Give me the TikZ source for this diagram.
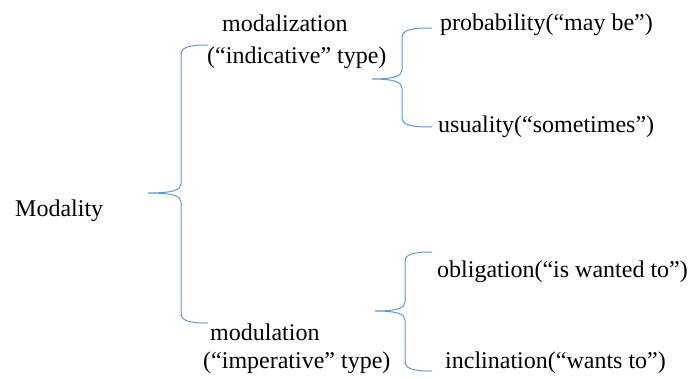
\documentclass[tikz,border=0pt]{standalone}
\usepackage{fontspec}
\setmainfont{Liberation Serif}
\newfontfamily\tnr{Liberation Serif}
\definecolor{bracecol}{RGB}{91,155,213}
\newcommand{\drawbrace}[6]{% #1 vertical x, #2 top y, #3 tip x, #4 tip y, #5 bottom y, #6 end x
  \draw[bracestyle] (#6,#2) .. controls ({#1+8},#2) and (#1,{#2+2}) .. (#1,{#2+10})
    -- (#1,{#4-9}) .. controls (#1,{#4-3}) and ({#1-8},#4) .. (#3,#4)
    .. controls ({#1-8},#4) and (#1,{#4+3}) .. (#1,{#4+9})
    -- (#1,{#5-10}) .. controls (#1,{#5-2}) and ({#1+8},#5) .. (#6,#5);}
\begin{document}
\begin{tikzpicture}[x=1pt,y=-1pt,
  bracestyle/.style={draw=bracecol,line width=1pt},
  lbl/.style={anchor=base west,inner sep=0pt,font=\tnr\fontsize{24}{28}\selectfont}]
\useasboundingbox (0,0) rectangle (694,378);
\node[lbl] (modality) at (15,216) {Modality};
\node[lbl] (modal1) at (222,31) {modalization};
\node[lbl] (modal2) at (207,63) {(“indicative” type)};
\node[lbl] (modul1) at (210,340) {modulation};
\node[lbl] (modul2) at (203,368) {(“imperative” type)};
\node[lbl] (prob) at (440,30) {probability(“may be”)};
\node[lbl] (usu) at (438,132) {usuality(“sometimes”)};
\node[lbl] (obl) at (437,277) {obligation(“is wanted to”)};
\node[lbl] (incl) at (445,368) {inclination(“wants to”)};
\drawbrace{181}{45}{148}{193}{323}{208}
\drawbrace{402}{28}{372}{79}{127}{432}
\drawbrace{405}{252}{375}{311}{371}{432}
\end{tikzpicture}
\end{document}
